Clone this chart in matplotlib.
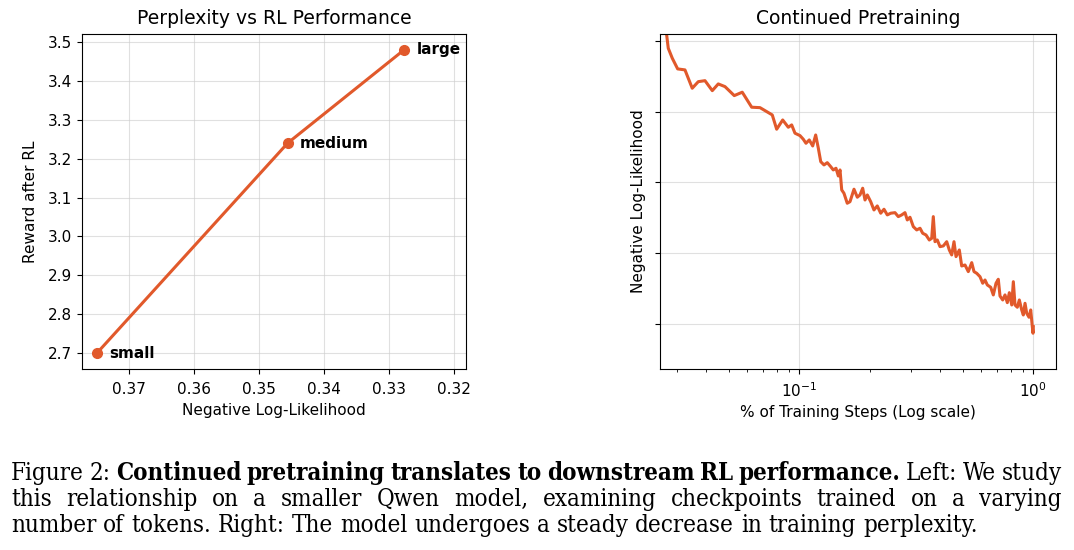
import matplotlib
matplotlib.use("Agg")
import matplotlib.pyplot as plt
from matplotlib import font_manager
import numpy as np

plt.rcParams["font.family"] = ["DejaVu Sans"]

# ---------------- data ----------------
model_names = ["small", "medium", "large"]
nll_values = [0.3749, 0.3456, 0.3277]
reward_values = [2.70, 3.24, 3.48]

train_frac = [0.02689, 0.02712, 0.02755, 0.02866, 0.03022, 0.03247, 0.03488, 0.03702,
              0.03954, 0.04249, 0.04506, 0.04814, 0.05274, 0.05706, 0.0626, 0.06794,
              0.07256, 0.07666, 0.08005, 0.08494, 0.08974, 0.09279, 0.09585, 0.1007,
              0.1040, 0.1068, 0.1103, 0.1141, 0.1175, 0.1206, 0.1235, 0.1275,
              0.1317, 0.1362, 0.1397, 0.1435, 0.1468, 0.1493, 0.1518, 0.1552,
              0.1603, 0.1647, 0.1713, 0.1770, 0.1817, 0.1866, 0.1909, 0.1953,
              0.2019, 0.2085, 0.2154, 0.2228, 0.2301, 0.2377, 0.2458, 0.2564,
              0.2649, 0.2739, 0.2829, 0.2894, 0.2972, 0.3071, 0.3175, 0.3280,
              0.3368, 0.3479, 0.3594, 0.3680, 0.3738, 0.3801, 0.3888, 0.3993,
              0.4125, 0.4265, 0.4375, 0.4480, 0.4582, 0.4674, 0.4828, 0.4943,
              0.5106, 0.5275, 0.5455, 0.5579, 0.5729, 0.5918, 0.6078, 0.6217,
              0.6359, 0.6575, 0.6746, 0.6927, 0.7085, 0.7205, 0.7400, 0.7569,
              0.7743, 0.7898, 0.8087, 0.8215, 0.8352, 0.8543, 0.8713, 0.8921,
              0.9063, 0.9216, 0.9371, 0.9585, 0.9747, 0.9902, 0.997, 1.0]
train_nll = [0.37223, 0.37082, 0.36894, 0.36753, 0.36602, 0.36588, 0.36329, 0.36422,
             0.36436, 0.36295, 0.36390, 0.36352, 0.36225, 0.36273, 0.36061, 0.36055,
             0.35999, 0.35952, 0.35750, 0.35881, 0.35778, 0.35811, 0.35694, 0.35660,
             0.35609, 0.35552, 0.35599, 0.35514, 0.35669, 0.35482, 0.35292, 0.35246,
             0.35278, 0.35222, 0.35175, 0.35199, 0.35090, 0.35175, 0.34893, 0.34846,
             0.34705, 0.34727, 0.34903, 0.34790, 0.34822, 0.34917, 0.34751, 0.34822,
             0.34727, 0.34610, 0.34667, 0.34564, 0.34620, 0.34540, 0.34564, 0.34572,
             0.34516, 0.34540, 0.34572, 0.34469, 0.34507, 0.34374, 0.34328, 0.34352,
             0.34281, 0.34257, 0.34186, 0.34210, 0.34516, 0.34162, 0.34186, 0.34092,
             0.34102, 0.34162, 0.34045, 0.33975, 0.34162, 0.33951, 0.34045, 0.33819,
             0.33833, 0.33739, 0.33866, 0.33739, 0.33716, 0.33668, 0.33575, 0.33621,
             0.33551, 0.33518, 0.33410, 0.33575, 0.33631, 0.33395, 0.33339, 0.33410,
             0.33301, 0.33442, 0.33268, 0.33597, 0.33268, 0.33236, 0.33339, 0.33198,
             0.33127, 0.33292, 0.33151, 0.33095, 0.33198, 0.32962, 0.32869, 0.32962]

left_xticks = [0.37, 0.36, 0.35, 0.34, 0.33, 0.32]
left_yticks = [2.7, 2.8, 2.9, 3.0, 3.1, 3.2, 3.3, 3.4, 3.5]
right_yticks = [0.33, 0.34, 0.35, 0.36, 0.37]

caption_lines = [
    [("Figure 2: ", "normal"),
     ("Continued pretraining translates to downstream RL performance.", "bold"),
     (" Left: We study", "normal")],
    [("this relationship on a smaller Qwen model, examining checkpoints trained on a varying", "normal")],
    [("number of tokens. Right: The model undergoes a steady decrease in training perplexity.", "normal")],
]

# ---------------- style ----------------
color = "#E1592B"
W, H = 1074, 550
fig = plt.figure(figsize=(W / 100, H / 100), dpi=100)

def px_axes(x0, x1, y0, y1):
    return fig.add_axes([x0 / W, 1 - y1 / H, (x1 - x0) / W, (y1 - y0) / H])

tick_fs = 11
label_fs = 11
title_fs = 13.5

# Left panel
ax1 = px_axes(82, 466, 34, 369)
ax1.plot(nll_values, reward_values, "-o", color=color, lw=2.2, ms=7)
for name, xv, yv in zip(model_names, nll_values, reward_values):
    ax1.annotate(name, (xv, yv), xytext=(9, 0), textcoords="offset points",
                 va="center", ha="left", fontsize=tick_fs, fontweight="bold")
ax1.set_xlim(0.3772, 0.3182)
ax1.set_ylim(2.659, 3.5206)
ax1.set_xticks(left_xticks)
ax1.set_xticklabels([f"{v:.2f}" for v in left_xticks])
ax1.set_yticks(left_yticks)
ax1.set_yticklabels([f"{v:.1f}" for v in left_yticks])
ax1.tick_params(labelsize=tick_fs)
ax1.tick_params(axis="x", pad=6)
ax1.grid(True, color="#cccccc", alpha=0.6, lw=0.8)
ax1.set_xlabel("Negative Log-Likelihood", fontsize=label_fs)
ax1.set_ylabel("Reward after RL", fontsize=label_fs, labelpad=7)
ax1.set_title("Perplexity vs RL Performance", fontsize=title_fs, pad=7)

# Right panel
ax2 = px_axes(660, 1056, 34, 369)
ax2.plot(train_frac, train_nll, "-", color=color, lw=2.2)
ax2.set_xscale("log")
ax2.set_xlim(0.0254, 1.25)
ax2.set_ylim(0.32364, 0.37095)
ax2.set_yticks(right_yticks)
ax2.set_yticklabels([])
ax2.tick_params(labelsize=tick_fs)
ax2.tick_params(axis="x", which="major", pad=5)
ax2.grid(True, which="major", color="#cccccc", alpha=0.6, lw=0.8)
ax2.set_xlabel("% of Training Steps (Log scale)", fontsize=label_fs)
ax2.set_ylabel("Negative Log-Likelihood", fontsize=label_fs, labelpad=3)
ax2.set_title("Continued Pretraining", fontsize=title_fs, pad=7)

# ---------------- caption (justified) ----------------
cap_family = "DejaVu Serif"
cap_stretch = "normal"
try:
    fp = font_manager.FontProperties(family="DejaVu Serif", stretch="condensed")
    fpath = font_manager.findfont(fp, fallback_to_default=False)
    if "Condensed" in fpath:
        cap_stretch = "condensed"
except Exception:
    pass

baselines = [480, 506, 532]
x_left, x_right = 11, 1062
last_right = 1050
renderer = fig.canvas.get_renderer()

def measure(s, weight, fs):
    t = fig.text(0, 0, s, fontsize=fs, family=cap_family, fontweight=weight,
                 fontstretch=cap_stretch)
    w = t.get_window_extent(renderer).width
    t.remove()
    return w

def split_words(segs):
    out = []
    for s, wt in segs:
        for p in s.split(" "):
            if p:
                out.append((p, wt))
    return out

ref_fs = 15.0
ref_space = measure("a b", "normal", ref_fs) - measure("ab", "normal", ref_fs)
fits = []
for li, segs in enumerate(caption_lines):
    words = split_words(segs)
    nat = sum(measure(w, wt, ref_fs) for w, wt in words) + 0.8 * ref_space * (len(words) - 1)
    target = (last_right if li == len(caption_lines) - 1 else x_right) - x_left
    fits.append(ref_fs * target / nat)
cap_fs = min(fits)

space_w = measure("a b", "normal", cap_fs) - measure("ab", "normal", cap_fs)
for li, segs in enumerate(caption_lines):
    words = split_words(segs)
    widths = [measure(w, wt, cap_fs) for w, wt in words]
    total = sum(widths)
    gaps = len(words) - 1
    if li < len(caption_lines) - 1:
        gap = (x_right - x_left - total) / gaps
    else:
        gap = space_w
    x = x_left
    yfig = 1 - baselines[li] / H
    for (w, wt), wd in zip(words, widths):
        fig.text(x / W, yfig, w, fontsize=cap_fs, family=cap_family,
                 fontweight=wt, fontstretch=cap_stretch, va="baseline", ha="left")
        x += wd + gap

fig.savefig("out.png", dpi=100)
